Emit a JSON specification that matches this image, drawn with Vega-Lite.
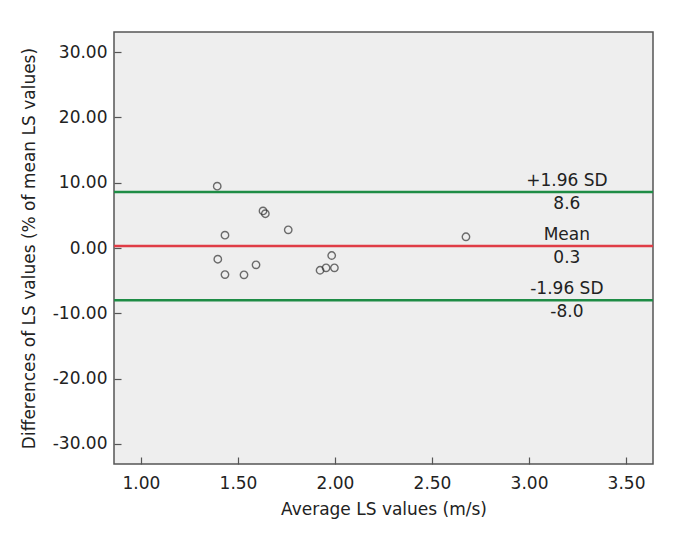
{
  "$schema": "https://vega.github.io/schema/vega-lite/v6.json",
  "autosize": {"type": "none"},
  "width": 539,
  "height": 432,
  "padding": {"left": 114, "top": 32, "right": 24, "bottom": 92},
  "background": "white",
  "config": {
    "font": "DejaVu Sans",
    "view": {"fill": "#eeeeee", "stroke": "#555555", "strokeWidth": 1.5},
    "axis": {
      "domain": false,
      "grid": false,
      "tickColor": "#555555",
      "tickWidth": 1.2,
      "tickSize": 7,
      "offset": -7,
      "labelFont": "DejaVu Sans",
      "labelFontSize": 17,
      "labelColor": "#222222",
      "titleFont": "DejaVu Sans",
      "titleFontSize": 17,
      "titleFontWeight": "normal",
      "titleColor": "#222222"
    }
  },
  "datasets": {
    "points": [
      {"avg": 1.393, "diff": 9.48},
      {"avg": 1.629, "diff": 5.68},
      {"avg": 1.641, "diff": 5.25},
      {"avg": 1.759, "diff": 2.79},
      {"avg": 1.433, "diff": 1.96},
      {"avg": 1.396, "diff": -1.72},
      {"avg": 1.433, "diff": -4.07},
      {"avg": 1.531, "diff": -4.11},
      {"avg": 1.593, "diff": -2.58},
      {"avg": 1.983, "diff": -1.15},
      {"avg": 1.954, "diff": -3.04},
      {"avg": 1.923, "diff": -3.41},
      {"avg": 1.997, "diff": -3.04},
      {"avg": 2.675, "diff": 1.72}
    ],
    "lines": [
      {"name": "+1.96 SD", "value": 8.6, "valueLabel": "8.6", "kind": "limit"},
      {"name": "Mean", "value": 0.3, "valueLabel": "0.3", "kind": "mean"},
      {"name": "-1.96 SD", "value": -8.0, "valueLabel": "-8.0", "kind": "limit"}
    ]
  },
  "layer": [
    {
      "data": {"name": "lines"},
      "mark": {"type": "rule", "strokeWidth": 2.5},
      "encoding": {
        "y": {"field": "value", "type": "quantitative", "scale": {"domain": [-33.1, 33.1], "nice": false, "zero": false}},
        "color": {"field": "kind", "type": "nominal", "scale": {"domain": ["limit", "mean"], "range": ["#1e8c45", "#e03c46"]}, "legend": null}
      }
    },
    {
      "data": {"name": "points"},
      "mark": {"type": "point", "shape": "circle", "filled": false, "stroke": "#333333", "strokeWidth": 1.4, "size": 55},
      "encoding": {
        "x": {
          "field": "avg", "type": "quantitative",
          "scale": {"domain": [0.861, 3.639], "nice": false, "zero": false},
          "axis": {"values": [1, 1.5, 2, 2.5, 3, 3.5], "labelExpr": "replace(format(datum.value, '.2f'), '\u2212', '-')", "labelPadding": 11, "title": "Average LS values (m/s)", "titlePadding": 10}
        },
        "y": {
          "field": "diff", "type": "quantitative",
          "scale": {"domain": [-33.1, 33.1], "nice": false, "zero": false},
          "axis": {"values": [-30, -20, -10, 0, 10, 20, 30], "labelExpr": "replace(format(datum.value, '.2f'), '\u2212', '-')", "labelPadding": 7, "title": "Differences of LS values (% of mean LS values)", "titlePadding": 14}
        }
      }
    },
    {
      "data": {"name": "lines"},
      "mark": {"type": "text", "fontSize": 17, "color": "#222222", "baseline": "alphabetic", "dy": -6, "align": "center"},
      "encoding": {
        "x": {"datum": 3.195, "type": "quantitative"},
        "y": {"field": "value", "type": "quantitative"},
        "text": {"field": "name"}
      }
    },
    {
      "data": {"name": "lines"},
      "mark": {"type": "text", "fontSize": 17, "color": "#222222", "baseline": "top", "dy": 4, "align": "center"},
      "encoding": {
        "x": {"datum": 3.195, "type": "quantitative"},
        "y": {"field": "value", "type": "quantitative"},
        "text": {"field": "valueLabel"}
      }
    }
  ]
}
